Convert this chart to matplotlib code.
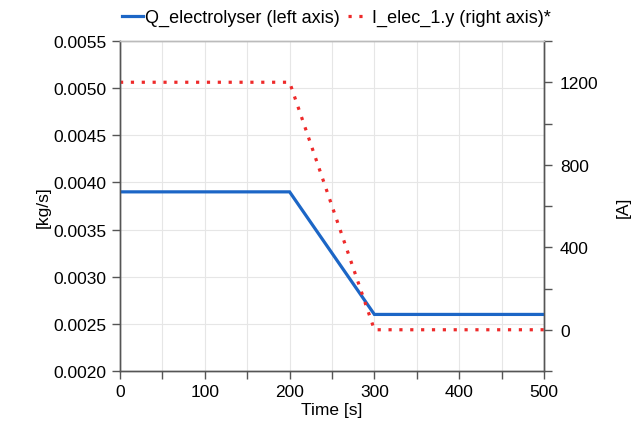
import matplotlib
matplotlib.use("Agg")
import matplotlib.pyplot as plt
from matplotlib.ticker import MultipleLocator

plt.rcParams.update({
    'font.family': ['Liberation Sans', 'DejaVu Sans'],
    'font.size': 12.5,
})

# data
time_q = [0, 200, 300, 500]
q_electrolyser = [0.0039, 0.0039, 0.0026, 0.0026]
time_i = [0, 200, 300, 500]
i_elec = [1200, 1200, 0, 0]

blue = '#1c66c6'
red = '#ee2a2a'
axis_col = '#555555'

fig = plt.figure(figsize=(6.38, 4.27), dpi=100)
ax = fig.add_axes([120 / 638, 1 - 372 / 427, (544 - 120) / 638, (372 - 42) / 427])
ax2 = ax.twinx()

l1, = ax.plot(time_q, q_electrolyser, color=blue, lw=2.3, solid_joinstyle='miter',
              label='Q_electrolyser (left axis)', zorder=3)
l2, = ax2.plot(time_i, i_elec, color=red, lw=2.3, linestyle=(0, (1, 2.4)),
               label='I_elec_1.y (right axis)*')

ax.set_xlim(0, 500)
ax.set_ylim(0.0020, 0.0055)
ax2.set_ylim(-200, 1400)

ax.xaxis.set_major_locator(MultipleLocator(100))
ax.xaxis.set_minor_locator(MultipleLocator(50))
ax.yaxis.set_major_locator(MultipleLocator(0.0005))
ax.yaxis.set_major_formatter(plt.FuncFormatter(lambda v, p: f'{v:.4f}'))
ax2.yaxis.set_major_locator(MultipleLocator(400))
ax2.yaxis.set_minor_locator(MultipleLocator(200))

ax.grid(True, which='both', axis='x', color='#e6e6e6', lw=0.8)
ax.grid(True, which='major', axis='y', color='#e6e6e6', lw=0.8)
ax.set_axisbelow(True)

for a in (ax, ax2):
    for s in a.spines.values():
        s.set_color(axis_col)
        s.set_linewidth(1.0)
    a.spines['top'].set_color('#bbbbbb')
    a.tick_params(which='both', color=axis_col, width=1.0, length=6,
                  labelsize=12.5, labelcolor='black')
ax2.tick_params(which='both', length=5.5, pad=6)

ax.set_xlabel('Time [s]', fontsize=12.5, labelpad=2)
ax.set_ylabel('[kg/s]', fontsize=12.5, labelpad=2)
ax2.set_ylabel('[A]', fontsize=12.5, labelpad=12)

fig.legend(handles=[l1, l2], loc='upper center', bbox_to_anchor=(0.527, 1.0),
           ncol=2, frameon=False, fontsize=13, handlelength=1.15,
           handletextpad=0.15, columnspacing=0.45, borderaxespad=0.15)

fig.savefig('out.png', dpi=100)
